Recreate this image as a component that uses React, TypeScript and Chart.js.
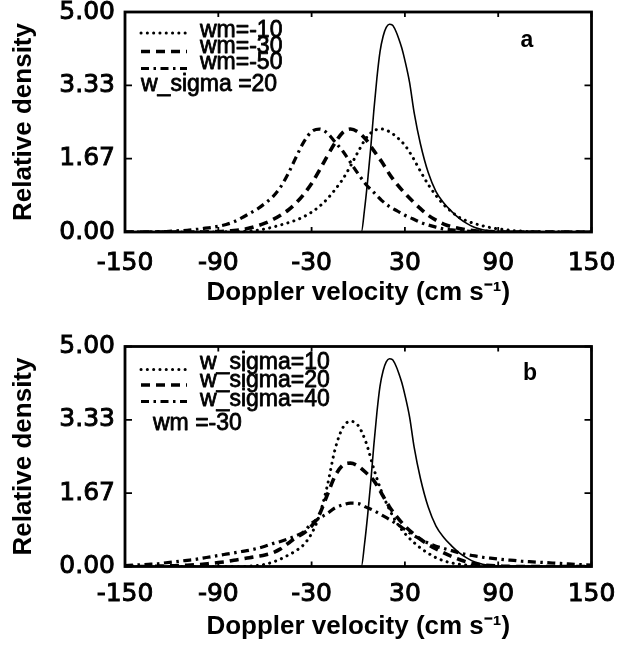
import React, { useEffect, useRef } from "react";
import { Chart, registerables } from "chart.js";

Chart.register(...registerables);

// ---------- data ----------
const velocity = [
  -150, -145, -140, -135, -130, -125, -120, -115, -110, -105, -100, -95, -90, -85, -80, -75, -70, -65, -60, -55,
  -50, -45, -40, -35, -30, -25, -20, -15, -10, -5, 0, 5, 10, 15, 20, 25, 30, 35, 40, 45,
  50, 55, 60, 65, 70, 75, 80, 85, 90, 95, 100, 105, 110, 115, 120, 125, 130, 135, 140, 145, 150,
];

// panel a : w_sigma = 20
const aWm10 = [
  0, 0, 0, 0, 0, 0, 0, 0, 0, 0, 0, 0, 0, 0.005, 0.01, 0.015, 0.025, 0.04, 0.07, 0.11,
  0.16, 0.21, 0.27, 0.35, 0.45, 0.58, 0.75, 0.96, 1.2, 1.5, 1.83, 2.13, 2.3, 2.34, 2.28, 2.15, 1.97, 1.7, 1.38, 1.08,
  0.83, 0.62, 0.46, 0.33, 0.25, 0.19, 0.14, 0.1, 0.07, 0.05, 0.03, 0.02, 0.01, 0.005, 0, 0, 0, 0, 0, 0, 0,
];
const aWm30 = [
  0, 0, 0, 0, 0, 0, 0, 0, 0, 0, 0, 0.005, 0.01, 0.02, 0.035, 0.05, 0.09, 0.14, 0.2, 0.28,
  0.38, 0.5, 0.66, 0.86, 1.1, 1.4, 1.72, 2.02, 2.26, 2.34, 2.27, 2.1, 1.85, 1.6, 1.32, 1.08, 0.88, 0.7, 0.53, 0.38,
  0.27, 0.18, 0.12, 0.08, 0.05, 0.03, 0.02, 0.01, 0.005, 0, 0, 0, 0, 0, 0, 0, 0, 0, 0, 0, 0,
];
const aWm50 = [
  0, 0, 0, 0, 0.005, 0.01, 0.02, 0.03, 0.04, 0.06, 0.08, 0.1, 0.13, 0.17, 0.23, 0.32, 0.42, 0.52, 0.65, 0.8,
  1.02, 1.33, 1.7, 2.05, 2.28, 2.34, 2.25, 2.05, 1.84, 1.58, 1.32, 1.08, 0.9, 0.72, 0.58, 0.48, 0.38, 0.3, 0.22, 0.16,
  0.11, 0.07, 0.05, 0.03, 0.02, 0.01, 0.005, 0, 0, 0, 0, 0, 0, 0, 0, 0, 0, 0, 0, 0, 0,
];

// panel b : wm = -30
const bSigma10 = [
  0, 0, 0, 0, 0, 0, 0, 0, 0, 0, 0, 0, 0, 0, 0, 0, 0.01, 0.02, 0.05, 0.1,
  0.17, 0.26, 0.36, 0.5, 0.75, 1.16, 1.82, 2.65, 3.15, 3.3, 3.2, 2.82, 2.22, 1.7, 1.3, 0.98, 0.75, 0.57, 0.42, 0.3,
  0.2, 0.13, 0.08, 0.05, 0.03, 0.015, 0.01, 0.005, 0, 0, 0, 0, 0, 0, 0, 0, 0, 0, 0, 0, 0,
];
const bSigma20 = [
  0, 0, 0, 0, 0.005, 0.01, 0.015, 0.02, 0.03, 0.04, 0.05, 0.07, 0.09, 0.11, 0.14, 0.17, 0.2, 0.23, 0.26, 0.31,
  0.4, 0.53, 0.66, 0.76, 0.92, 1.18, 1.62, 2.05, 2.3, 2.35, 2.28, 2.13, 1.95, 1.66, 1.36, 1.12, 0.92, 0.76, 0.62, 0.5,
  0.4, 0.31, 0.23, 0.16, 0.1, 0.06, 0.035, 0.02, 0.01, 0.005, 0, 0, 0, 0, 0, 0, 0, 0, 0, 0, 0,
];
const bSigma40 = [
  0.02, 0.03, 0.04, 0.05, 0.06, 0.08, 0.1, 0.12, 0.14, 0.16, 0.19, 0.22, 0.25, 0.28, 0.31, 0.34, 0.37, 0.41, 0.46, 0.52,
  0.57, 0.63, 0.7, 0.79, 0.98, 1.1, 1.2, 1.33, 1.4, 1.44, 1.43, 1.35, 1.27, 1.17, 1.07, 0.96, 0.84, 0.72, 0.62, 0.53,
  0.46, 0.41, 0.36, 0.31, 0.27, 0.24, 0.21, 0.19, 0.17, 0.15, 0.14, 0.12, 0.11, 0.1, 0.09, 0.08, 0.07, 0.06, 0.05, 0.04, 0.03,
];

// solid curve (same in both panels)
const solidX = [-150, 0, 2, 4, 6, 8, 10, 12, 14, 16, 18, 20, 22, 24, 26, 28, 30, 33, 36, 40, 45, 50, 55, 60, 65, 70, 75, 80, 85, 90, 150];
const solidY = [0, 0, 0, 0.5, 1.15, 1.9, 2.75, 3.5, 4.1, 4.45, 4.65, 4.72, 4.7, 4.58, 4.4, 4.18, 3.9, 3.4, 2.7, 2.0, 1.35, 0.92, 0.66, 0.47, 0.31, 0.19, 0.1, 0.05, 0.025, 0.01, 0];

const yTickValues = [0, 5 / 3, 10 / 3, 5];
const xTickValues = [-150, -90, -30, 30, 90, 150];

const legendA = ["wm=-10", "wm=-30", "wm=-50"];
const legendB = ["w_sigma=10", "w_sigma=20", "w_sigma=40"];
const noteA = "w_sigma =20";
const noteB = "wm =-30";
const xTitle = "Doppler velocity (cm s\u207B\u00B9)";
const yTitle = "Relative density";

// ---------- styles ----------
const TICK_FONT = { family: "'DejaVu Sans', sans-serif", size: 25, weight: "normal" as const };
const TITLE_FONT = { family: "'Liberation Sans', Arial, sans-serif", size: 26, weight: "bold" as const };
const LEG_FONT = "23px 'Liberation Sans', Arial, sans-serif";
const LETTER_FONT = "bold 23px 'Liberation Sans', Arial, sans-serif";

const DOT = { borderWidth: 3, borderDash: [0.1, 6.2], borderCapStyle: "round" as const };
const DASH = { borderWidth: 3.6, borderDash: [9, 6], borderCapStyle: "butt" as const };
const DASHDOT = { borderWidth: 3.2, borderDash: [8, 4.5, 2.5, 4.5], borderCapStyle: "butt" as const };
const SOLID = { borderWidth: 1.6, borderDash: [] as number[], borderCapStyle: "butt" as const };

function series(xs: number[], ys: number[], style: any) {
  return {
    data: xs.map((x, i) => ({ x, y: ys[i] })),
    borderColor: "#000",
    backgroundColor: "#000",
    pointRadius: 0,
    fill: false,
    cubicInterpolationMode: "monotone" as const,
    ...style,
  };
}

interface PanelSpec {
  height: number;
  padTop: number;
  xAxisHeight: number;
  xTickPad: number;
  xTitlePad: number;
  datasets: any[];
  legend: string[];
  legendSampleY: number[];
  legendTextY: number[];
  note: string;
  noteX: number;
  noteY: number;
  letter: string;
  letterX: number;
  letterY: number;
}

const panelA: PanelSpec = {
  height: 320,
  padTop: 12,
  xAxisHeight: 88,
  xTickPad: 16,
  xTitlePad: 12,
  datasets: [
    series(velocity, aWm10, DOT),
    series(velocity, aWm30, DASH),
    series(velocity, aWm50, DASHDOT),
    series(solidX, solidY, SOLID),
  ],
  legend: legendA,
  legendSampleY: [33, 51.5, 68.5],
  legendTextY: [30.5, 46.5, 62.5],
  note: noteA,
  noteX: 141,
  noteY: 85,
  letter: "a",
  letterX: 527,
  letterY: 41,
};

const panelB: PanelSpec = {
  height: 325,
  padTop: 26.5,
  xAxisHeight: 78.5,
  xTickPad: 13,
  xTitlePad: 3,
  datasets: [
    series(velocity, bSigma10, DOT),
    series(velocity, bSigma20, DASH),
    series(velocity, bSigma40, DASHDOT),
    series(solidX, solidY, SOLID),
  ],
  legend: legendB,
  legendSampleY: [49.5, 65, 81.5],
  legendTextY: [42.5, 61, 80],
  note: noteB,
  noteX: 153,
  noteY: 104,
  letter: "b",
  letterX: 530,
  letterY: 54,
};

const LEFT = 125;
const RIGHT_PAD = 27.5;

function framePlugin(spec: PanelSpec) {
  return {
    id: "frame" + spec.letter,
    afterDraw(chart: any) {
      const ctx = chart.ctx as CanvasRenderingContext2D;
      const { left, right, top, bottom } = chart.chartArea;
      const xs = chart.scales.x;
      const ys = chart.scales.y;
      ctx.save();
      ctx.strokeStyle = "#000";
      ctx.setLineDash([]);
      // frame
      ctx.lineWidth = 2.8;
      ctx.strokeRect(left, top, right - left, bottom - top);
      // inward ticks
      ctx.lineWidth = 1.8;
      ctx.beginPath();
      xs.ticks.forEach((t: any) => {
        const px = xs.getPixelForValue(t.value);
        ctx.moveTo(px, bottom);
        ctx.lineTo(px, bottom - 5);
        ctx.moveTo(px, top);
        ctx.lineTo(px, top + 5);
      });
      ys.ticks.forEach((t: any) => {
        const py = ys.getPixelForValue(t.value);
        ctx.moveTo(left, py);
        ctx.lineTo(left + 7, py);
        ctx.moveTo(right, py);
        ctx.lineTo(right - 7, py);
      });
      ctx.stroke();

      // legend samples
      const styles = [DOT, DASH, DASHDOT];
      const x0 = left + 16;
      const x1 = left + 62;
      styles.forEach((st, i) => {
        ctx.beginPath();
        ctx.lineWidth = st.borderWidth;
        ctx.setLineDash(st.borderDash);
        ctx.lineCap = st.borderCapStyle;
        ctx.moveTo(x0, spec.legendSampleY[i]);
        ctx.lineTo(x1, spec.legendSampleY[i]);
        ctx.stroke();
      });
      ctx.setLineDash([]);
      ctx.lineCap = "butt";

      // legend texts (slightly emboldened like the scanned original)
      ctx.fillStyle = "#000";
      ctx.font = LEG_FONT;
      ctx.textAlign = "left";
      ctx.textBaseline = "middle";
      ctx.lineWidth = 0.8;
      ctx.lineJoin = "round";
      spec.legend.forEach((txt, i) => {
        ctx.fillText(txt, left + 75, spec.legendTextY[i]);
        ctx.strokeText(txt, left + 75, spec.legendTextY[i]);
      });
      ctx.fillText(spec.note, spec.noteX, spec.noteY);
      ctx.strokeText(spec.note, spec.noteX, spec.noteY);

      // panel letter
      ctx.font = LETTER_FONT;
      ctx.textAlign = "center";
      ctx.fillText(spec.letter, spec.letterX, spec.letterY);
      ctx.restore();
    },
  };
}

function makeConfig(spec: PanelSpec): any {
  return {
    type: "line",
    data: { datasets: spec.datasets },
    options: {
      animation: false,
      responsive: false,
      devicePixelRatio: 1,
      layout: { padding: { top: spec.padTop, right: RIGHT_PAD, left: 0, bottom: 0 } },
      plugins: { legend: { display: false }, tooltip: { enabled: false }, title: { display: false } },
      scales: {
        x: {
          type: "linear",
          min: -150,
          max: 150,
          afterBuildTicks: (s: any) => {
            s.ticks = xTickValues.map((v) => ({ value: v }));
          },
          ticks: {
            font: TICK_FONT,
            color: "#000",
            textStrokeColor: "#000",
            textStrokeWidth: 0.9,
            padding: spec.xTickPad,
            maxRotation: 0,
            autoSkip: false,
            callback: (v: any) => String(v),
          },
          grid: { display: false, drawTicks: false },
          border: { display: false },
          title: {
            display: true,
            text: xTitle,
            font: TITLE_FONT,
            color: "#000",
            padding: { top: 0, bottom: spec.xTitlePad },
          },
          afterFit: (s: any) => {
            s.height = spec.xAxisHeight;
            s.paddingLeft = 0;
            s.paddingRight = 0;
          },
        },
        y: {
          type: "linear",
          min: 0,
          max: 5,
          afterBuildTicks: (s: any) => {
            s.ticks = yTickValues.map((v) => ({ value: v }));
          },
          ticks: {
            font: TICK_FONT,
            color: "#000",
            textStrokeColor: "#000",
            textStrokeWidth: 0.9,
            padding: 10,
            callback: (v: any) => Number(v).toFixed(2),
          },
          grid: { display: false, drawTicks: false },
          border: { display: false },
          title: {
            display: true,
            text: yTitle,
            font: TITLE_FONT,
            color: "#000",
            padding: { top: 8, bottom: 0 },
          },
          afterFit: (s: any) => {
            s.width = LEFT;
            s.paddingTop = 0;
            s.paddingBottom = 0;
          },
        },
      },
    },
    plugins: [framePlugin(spec)],
  };
}

function Panel({ spec, top }: { spec: PanelSpec; top: number }) {
  const ref = useRef<HTMLCanvasElement | null>(null);
  useEffect(() => {
    if (!ref.current) return;
    const chart = new Chart(ref.current, makeConfig(spec));
    return () => chart.destroy();
  }, [spec]);
  return (
    <canvas
      ref={ref}
      width={619}
      height={spec.height}
      style={{ position: "absolute", left: 0, top, width: 619, height: spec.height, display: "block" }}
    />
  );
}

export default function App() {
  return (
    <div style={{ position: "absolute", left: 0, top: 0, width: 619, height: 645, background: "#fff" }}>
      <Panel spec={panelA} top={0} />
      <Panel spec={panelB} top={320} />
    </div>
  );
}
